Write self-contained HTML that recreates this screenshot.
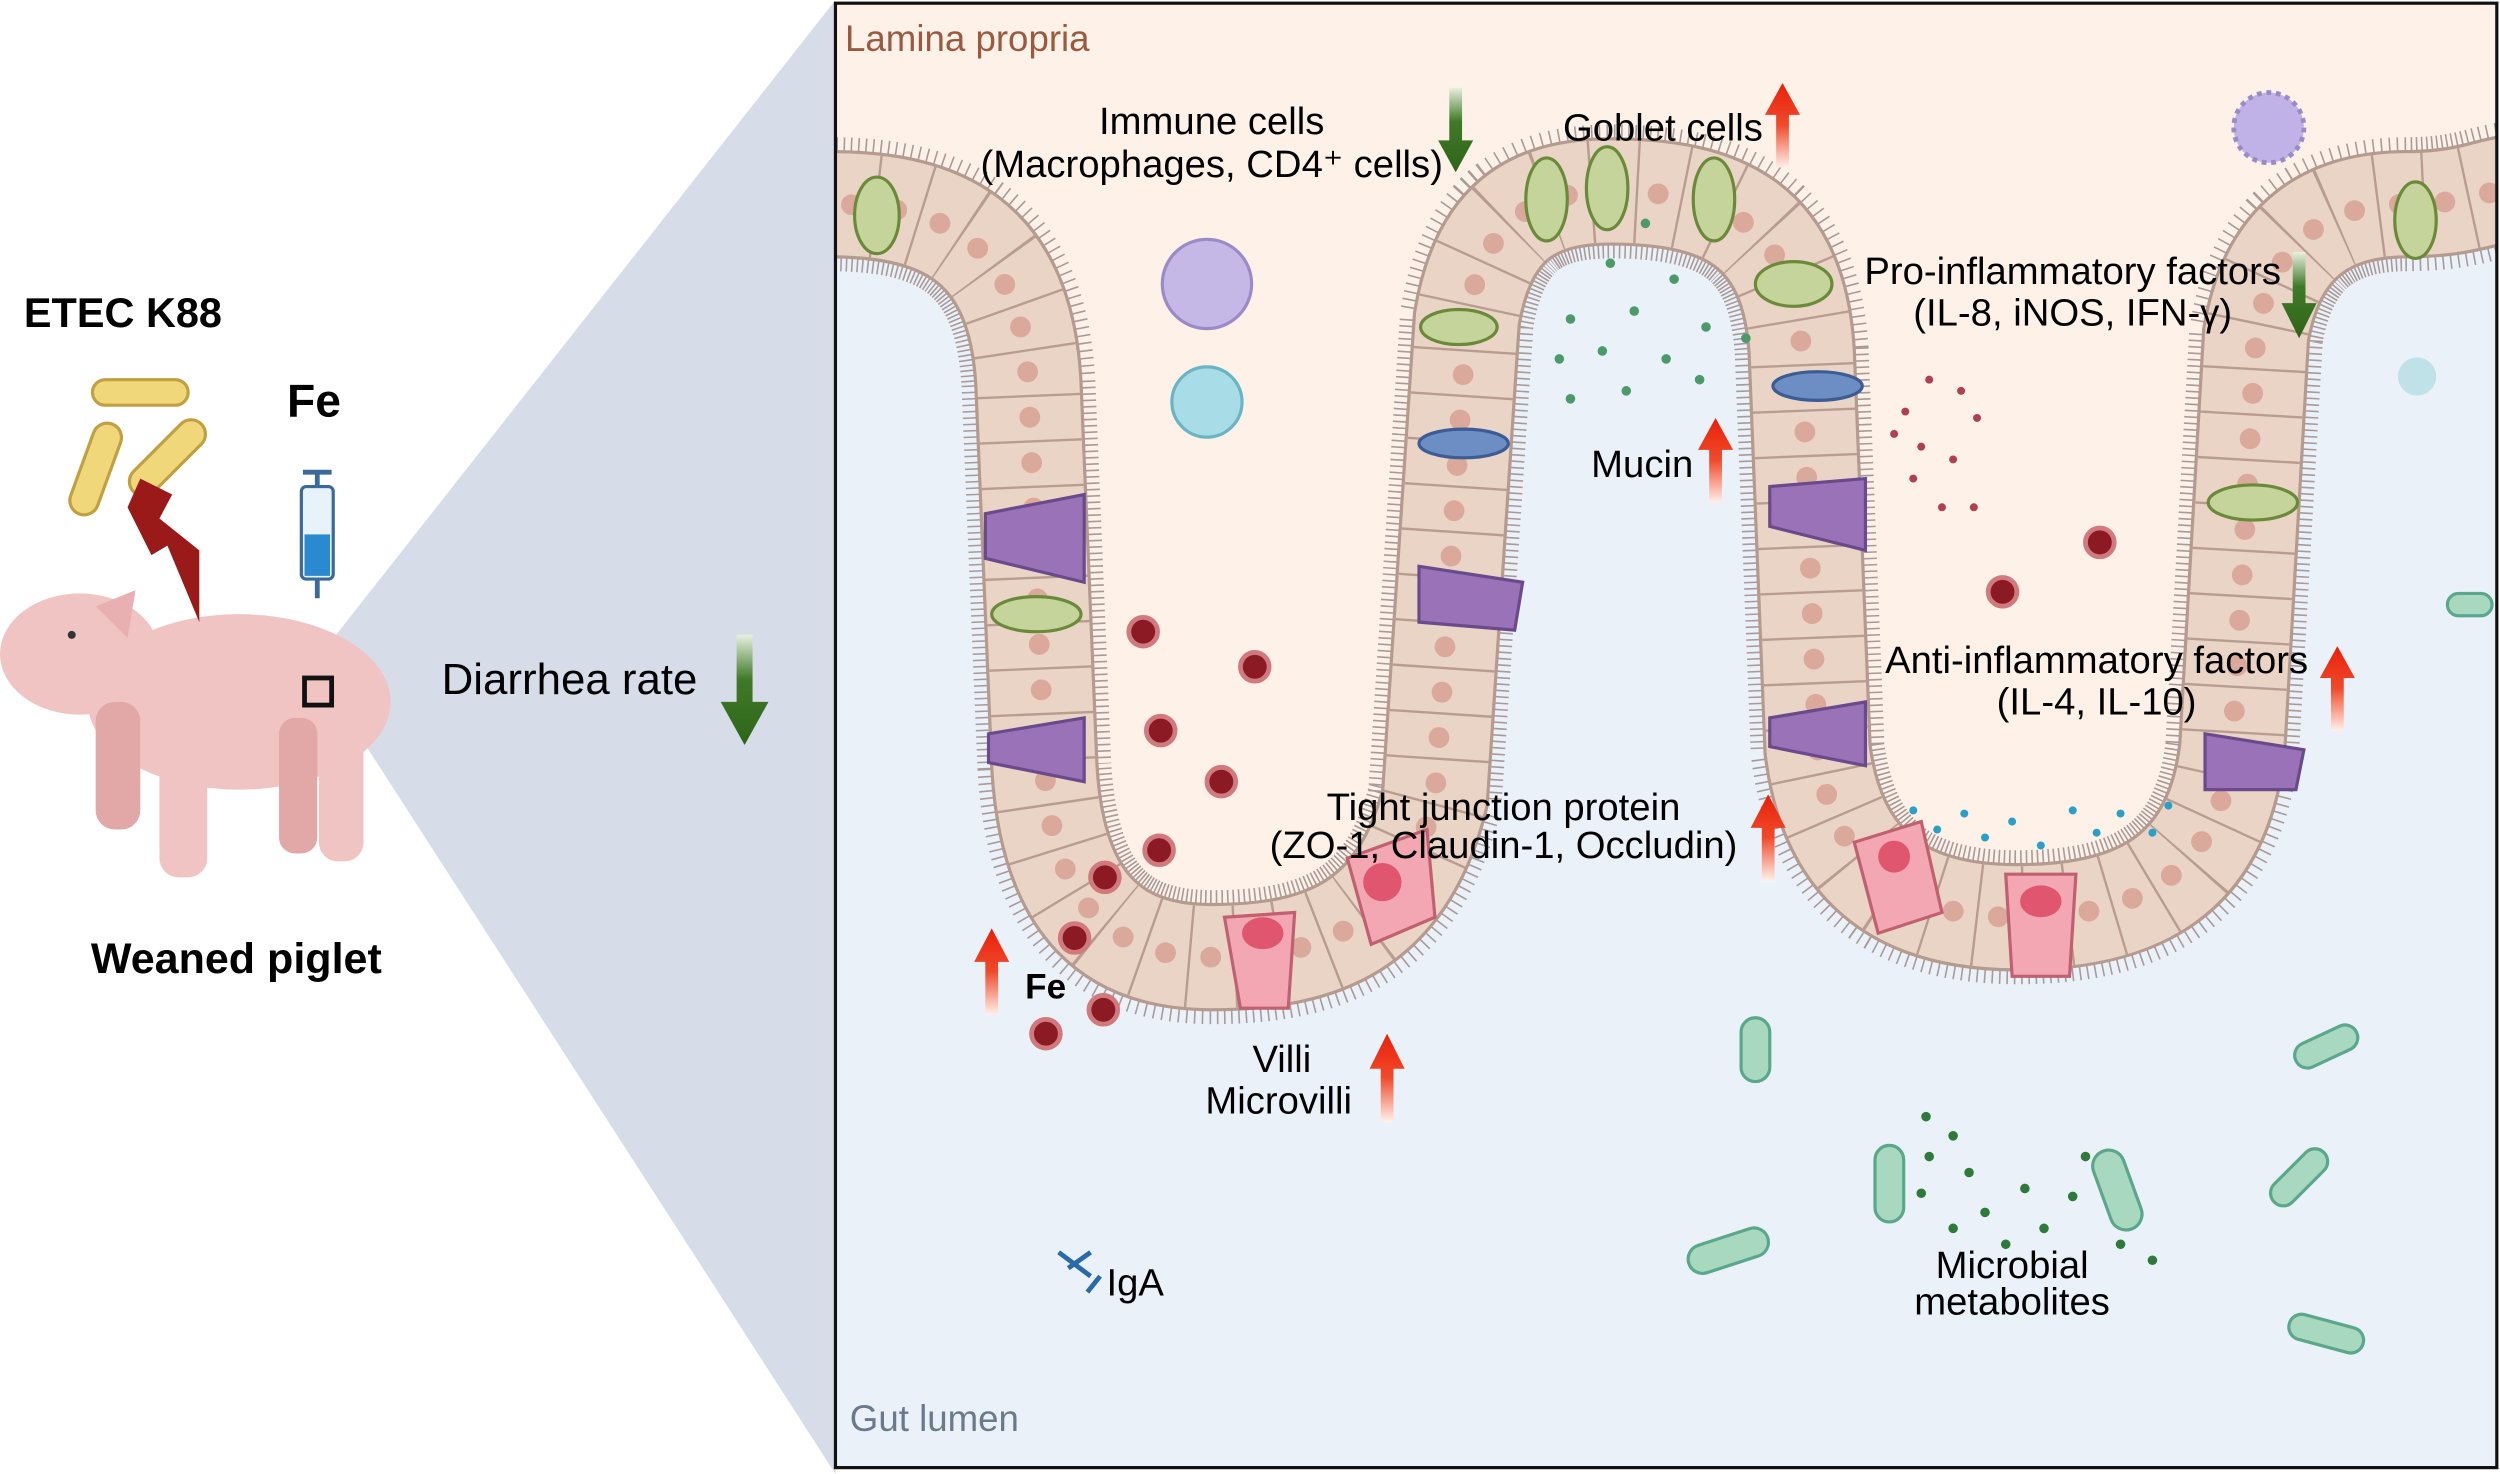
<!DOCTYPE html>
<html><head><meta charset="utf-8"><style>
html,body{margin:0;padding:0;background:#fff}
svg{display:block}
text{font-family:"Liberation Sans",Arial,sans-serif}
</style></head><body>
<svg width="2500" height="1474" viewBox="0 0 1568 924" preserveAspectRatio="none" xmlns="http://www.w3.org/2000/svg">
<defs>
<linearGradient id="rg" x1="0" y1="1" x2="0" y2="0"><stop offset="0" stop-color="#fff0e8"/><stop offset="0.5" stop-color="#f04a2a"/><stop offset="1" stop-color="#e8200a"/></linearGradient>
<linearGradient id="gg" x1="0" y1="0" x2="0" y2="1"><stop offset="0" stop-color="#e8f0e0"/><stop offset="0.4" stop-color="#3f7a28"/><stop offset="1" stop-color="#2f6418"/></linearGradient>
<clipPath id="box"><rect x="524" y="2" width="1042" height="918"/></clipPath>
</defs>
<rect width="1568" height="924" fill="#fff"/>
<polygon points="195,418 524,0 524,924 215,445" fill="#d6dde9"/>
<g clip-path="url(#box)">
<rect x="524" y="2" width="1042" height="918" fill="#ebf1f9"/>
<path d="M 520,128 C 590,128 640,150 645,240 L 655,480 C 660,570 700,600 760,600 C 830,600 880,580 900,500 L 920,200 C 930,140 960,120 1010,120 C 1080,120 1125,140 1130,220 L 1140,470 C 1150,550 1200,575 1265,575 C 1340,575 1390,550 1400,470 L 1415,210 C 1425,150 1460,128 1510,128 C 1545,128 1560,120 1575,118 L 1575,0 L 520,0 Z" fill="#fdf1e8"/>
<path d="M 520,128 C 590,128 640,150 645,240 L 655,480 C 660,570 700,600 760,600 C 830,600 880,580 900,500 L 920,200 C 930,140 960,120 1010,120 C 1080,120 1125,140 1130,220 L 1140,470 C 1150,550 1200,575 1265,575 C 1340,575 1390,550 1400,470 L 1415,210 C 1425,150 1460,128 1510,128 C 1545,128 1560,120 1575,118" fill="none" stroke="#a89a98" stroke-width="84" stroke-dasharray="1 3"/>
<path d="M 520,128 C 590,128 640,150 645,240 L 655,480 C 660,570 700,600 760,600 C 830,600 880,580 900,500 L 920,200 C 930,140 960,120 1010,120 C 1080,120 1125,140 1130,220 L 1140,470 C 1150,550 1200,575 1265,575 C 1340,575 1390,550 1400,470 L 1415,210 C 1425,150 1460,128 1510,128 C 1545,128 1560,120 1575,118" fill="none" stroke="#b49a8f" stroke-width="68"/>
<path d="M 520,128 C 590,128 640,150 645,240 L 655,480 C 660,570 700,600 760,600 C 830,600 880,580 900,500 L 920,200 C 930,140 960,120 1010,120 C 1080,120 1125,140 1130,220 L 1140,470 C 1150,550 1200,575 1265,575 C 1340,575 1390,550 1400,470 L 1415,210 C 1425,150 1460,128 1510,128 C 1545,128 1560,120 1575,118" fill="none" stroke="#ead4c6" stroke-width="64"/>
<path d="M 520,128 C 590,128 640,150 645,240 L 655,480 C 660,570 700,600 760,600 C 830,600 880,580 900,500 L 920,200 C 930,140 960,120 1010,120 C 1080,120 1125,140 1130,220 L 1140,470 C 1150,550 1200,575 1265,575 C 1340,575 1390,550 1400,470 L 1415,210 C 1425,150 1460,128 1510,128 C 1545,128 1560,120 1575,118" fill="none" stroke="#b89c90" stroke-width="64" stroke-dasharray="1.5 27"/>
<path d="M 520,128 C 590,128 640,150 645,240 L 655,480 C 660,570 700,600 760,600 C 830,600 880,580 900,500 L 920,200 C 930,140 960,120 1010,120 C 1080,120 1125,140 1130,220 L 1140,470 C 1150,550 1200,575 1265,575 C 1340,575 1390,550 1400,470 L 1415,210 C 1425,150 1460,128 1510,128 C 1545,128 1560,120 1575,118" fill="none" stroke="#dba99c" stroke-width="13" stroke-linecap="round" stroke-dasharray="0.1 28.4" stroke-dashoffset="-14"/>
<g fill="#c5d49a" stroke="#6a8a3a" stroke-width="2">
<ellipse cx="550" cy="135" rx="14" ry="24"/>
<ellipse cx="970" cy="125" rx="13" ry="26"/><ellipse cx="1008" cy="118" rx="13" ry="26"/><ellipse cx="1075" cy="125" rx="13" ry="26"/>
<ellipse cx="1125" cy="178" rx="24" ry="14"/><ellipse cx="915" cy="205" rx="24" ry="11"/>
<ellipse cx="650" cy="385" rx="28" ry="11"/><ellipse cx="1413" cy="315" rx="28" ry="11"/>
<ellipse cx="1515" cy="138" rx="13" ry="24"/>
</g>
<g fill="#9a72b8" stroke="#6a4a8a" stroke-width="2">
<path d="M618,322 L680,310 L680,365 L618,350 Z"/><path d="M620,460 L680,450 L680,490 L620,478 Z"/>
<path d="M890,355 L955,365 L950,395 L890,390 Z"/><path d="M1110,305 L1170,300 L1170,345 L1110,330 Z"/>
<path d="M1110,450 L1170,440 L1170,480 L1110,468 Z"/><path d="M1383,460 L1445,470 L1440,495 L1383,495 Z"/>
</g>
<g fill="#f2a7b2" stroke="#c06070" stroke-width="2">
<path d="M768,575 L812,572 L808,632 L778,632 Z"/><path d="M845,538 L895,520 L900,575 L860,592 Z"/>
<path d="M1163,528 L1205,515 L1218,572 L1178,585 Z"/><path d="M1258,548 L1302,548 L1298,612 L1262,612 Z"/>
</g>
<g fill="#e0566e"><ellipse cx="792" cy="585" rx="13" ry="10"/><ellipse cx="867" cy="553" rx="12" ry="12"/><ellipse cx="1188" cy="537" rx="10" ry="10"/><ellipse cx="1280" cy="565" rx="13" ry="10"/></g>
<g fill="#6c8ec4" stroke="#3c5c94" stroke-width="2"><ellipse cx="918" cy="278" rx="28" ry="9"/><ellipse cx="1140" cy="242" rx="28" ry="9"/></g>
<circle cx="757" cy="178" r="28" fill="#c5b8e6" stroke="#9a8ac8" stroke-width="2"/>
<circle cx="757" cy="252" r="22" fill="#a8dde8" stroke="#6ab4c4" stroke-width="2"/>
<circle cx="1423" cy="80" r="22" fill="#c0b2e6" stroke="#9a8ac8" stroke-width="3" stroke-dasharray="3 3"/>
<circle cx="1516" cy="236" r="12" fill="#bfe2e8"/>
<g fill="#8c1a24" stroke="#d07a7e" stroke-width="3">
<circle cx="717" cy="396" r="9"/><circle cx="787" cy="418" r="9"/><circle cx="728" cy="458" r="9"/><circle cx="766" cy="490" r="9"/>
<circle cx="727" cy="533" r="9"/><circle cx="693" cy="550" r="9"/><circle cx="674" cy="588" r="9"/><circle cx="692" cy="633" r="9"/>
<circle cx="656" cy="648" r="9"/><circle cx="1317" cy="340" r="9"/><circle cx="1256" cy="371" r="9"/>
</g>
<g fill="#4a9a6a"><circle cx="1032" cy="140" r="3"/><circle cx="1010" cy="165" r="3"/><circle cx="1050" cy="175" r="3"/><circle cx="985" cy="200" r="3"/><circle cx="1025" cy="195" r="3"/><circle cx="1070" cy="205" r="3"/><circle cx="1095" cy="212" r="3"/><circle cx="978" cy="225" r="3"/><circle cx="1005" cy="220" r="3"/><circle cx="1045" cy="225" r="3"/><circle cx="1066" cy="238" r="3"/><circle cx="985" cy="250" r="3"/><circle cx="1020" cy="245" r="3"/></g>
<g fill="#b04050"><circle cx="1210" cy="238" r="2.5"/><circle cx="1230" cy="245" r="2.5"/><circle cx="1195" cy="258" r="2.5"/><circle cx="1240" cy="262" r="2.5"/><circle cx="1188" cy="272" r="2.5"/><circle cx="1205" cy="280" r="2.5"/><circle cx="1225" cy="288" r="2.5"/><circle cx="1200" cy="300" r="2.5"/><circle cx="1218" cy="318" r="2.5"/><circle cx="1238" cy="318" r="2.5"/></g>
<g fill="#2aa0c8"><circle cx="1200" cy="508" r="2.5"/><circle cx="1215" cy="520" r="2.5"/><circle cx="1232" cy="510" r="2.5"/><circle cx="1245" cy="525" r="2.5"/><circle cx="1262" cy="515" r="2.5"/><circle cx="1300" cy="508" r="2.5"/><circle cx="1315" cy="522" r="2.5"/><circle cx="1330" cy="510" r="2.5"/><circle cx="1350" cy="522" r="2.5"/><circle cx="1360" cy="505" r="2.5"/><circle cx="1280" cy="530" r="2.5"/></g>
<g fill="#2e7a3a"><circle cx="1208" cy="700" r="3"/><circle cx="1225" cy="712" r="3"/><circle cx="1210" cy="725" r="3"/><circle cx="1235" cy="735" r="3"/><circle cx="1205" cy="748" r="3"/><circle cx="1245" cy="760" r="3"/><circle cx="1225" cy="770" r="3"/><circle cx="1258" cy="780" r="3"/><circle cx="1282" cy="770" r="3"/><circle cx="1300" cy="750" r="3"/><circle cx="1308" cy="725" r="3"/><circle cx="1330" cy="780" r="3"/><circle cx="1350" cy="790" r="3"/><circle cx="1270" cy="745" r="3"/></g>
<g fill="#a8d8c0" stroke="#5aa88a" stroke-width="2">
<rect x="1092" y="638" width="18" height="40" rx="9"/><rect x="1176" y="718" width="18" height="48" rx="9"/>
<rect x="1318" y="720" width="20" height="52" rx="10" transform="rotate(-20 1328 746)"/>
<rect x="1058" y="775" width="52" height="18" rx="9" transform="rotate(-18 1084 784)"/>
<rect x="1438" y="648" width="42" height="16" rx="8" transform="rotate(-25 1459 656)"/>
<rect x="1420" y="730" width="44" height="16" rx="8" transform="rotate(-45 1442 738)"/>
<rect x="1435" y="828" width="48" height="16" rx="8" transform="rotate(15 1459 836)"/>
<rect x="1535" y="372" width="28" height="14" rx="7"/>
</g>
<path d="M664,785 l20,15 M670,795 l14,-10 M690,800 l-8,10" stroke="#2a6aa8" stroke-width="3" fill="none"/>
<text x="530" y="32" font-size="23" fill="#9a5a40">Lamina propria</text>
<text x="533" y="897" font-size="23" fill="#6a7a8c">Gut lumen</text>
</g>
<rect x="524" y="2" width="1042" height="918" fill="none" stroke="#111" stroke-width="2"/>
<g fill="#f0c4c2">
<ellipse cx="150" cy="440" rx="95" ry="55"/><ellipse cx="50" cy="410" rx="50" ry="38"/>
<rect x="100" y="460" width="30" height="90" rx="12"/><rect x="200" y="450" width="28" height="90" rx="12"/>
<rect x="60" y="440" width="28" height="80" rx="12" fill="#e2a8a8"/><rect x="175" y="450" width="24" height="85" rx="10" fill="#e2a8a8"/>
<path d="M60,380 L85,370 L80,400 Z" fill="#e8b0b0"/>
</g>
<circle cx="45" cy="398" r="2.5" fill="#333"/>
<rect x="191" y="425" width="17" height="17" fill="none" stroke="#111" stroke-width="3"/>
<g fill="#f0d77a" stroke="#c0a040" stroke-width="2">
<rect x="58" y="238" width="60" height="16" rx="8"/>
<rect x="30" y="285" width="60" height="18" rx="9" transform="rotate(-70 60 294)"/>
<rect x="75" y="278" width="60" height="18" rx="9" transform="rotate(-45 105 287)"/>
</g>
<polygon points="88,300 108,310 100,325 125,345 125,390 105,342 95,348 80,318" fill="#9a1a1a"/>
<g stroke="#3a6a9a" stroke-width="3" fill="none"><line x1="199" y1="295" x2="199" y2="375"/><line x1="190" y1="296" x2="208" y2="296"/></g>
<rect x="189" y="305" width="20" height="58" rx="3" fill="#e8f2fa" stroke="#3a6a9a" stroke-width="2"/>
<rect x="191" y="335" width="16" height="26" fill="#2a8ad0"/>
<text x="15" y="205" font-size="26" font-weight="bold">ETEC K88</text>
<text x="180" y="261" font-size="29" font-weight="bold">Fe</text>
<text x="57" y="610" font-size="27" font-weight="bold">Weaned piglet</text>
<text x="277" y="435" font-size="27.5">Diarrhea rate</text>
<g font-size="24" text-anchor="middle">
<text x="760" y="84">Immune cells</text><text x="760" y="111">(Macrophages, CD4⁺ cells)</text>
<text x="1043" y="88">Goblet cells</text>
<text x="1300" y="178">Pro-inflammatory factors</text><text x="1300" y="204">(IL-8, iNOS, IFN-γ)</text>
<text x="1030" y="299">Mucin</text>
<text x="1315" y="422">Anti-inflammatory factors</text><text x="1315" y="448">(IL-4, IL-10)</text>
<text x="943" y="514">Tight junction protein</text><text x="943" y="538">(ZO-1, Claudin-1, Occludin)</text>
<text x="804" y="672">Villi</text><text x="802" y="698">Microvilli</text>
<text x="1262" y="801">Microbial</text><text x="1262" y="824">metabolites</text>
<text x="712" y="812">IgA</text>
</g>
<text x="643" y="626" font-size="22" font-weight="bold">Fe</text>
<g fill="url(#rg)">
<path d="M1114,105 L1114,72 L1107,72 L1118,52 L1129,72 L1122,72 L1122,105 Z"/>
<path d="M1072,315 L1072,282 L1065,282 L1076,262 L1087,282 L1080,282 L1080,315 Z"/>
<path d="M1462,458 L1462,425 L1455,425 L1466,405 L1477,425 L1470,425 L1470,458 Z"/>
<path d="M1105,552 L1105,519 L1098,519 L1109,498 L1120,519 L1113,519 L1113,552 Z"/>
<path d="M618,636 L618,603 L611,603 L622,582 L633,603 L626,603 L626,636 Z"/>
<path d="M866,703 L866,670 L859,670 L870,648 L881,670 L874,670 L874,703 Z"/>
</g>
<g fill="url(#gg)">
<path d="M909,55 L917,55 L917,88 L924,88 L913,108 L902,88 L909,88 Z"/>
<path d="M1438,158 L1446,158 L1446,190 L1453,190 L1442,212 L1431,190 L1438,190 Z"/>
<path d="M462,398 L472,398 L472,440 L482,440 L467,467 L452,440 L462,440 Z"/>
</g>
</svg>
</body></html>
